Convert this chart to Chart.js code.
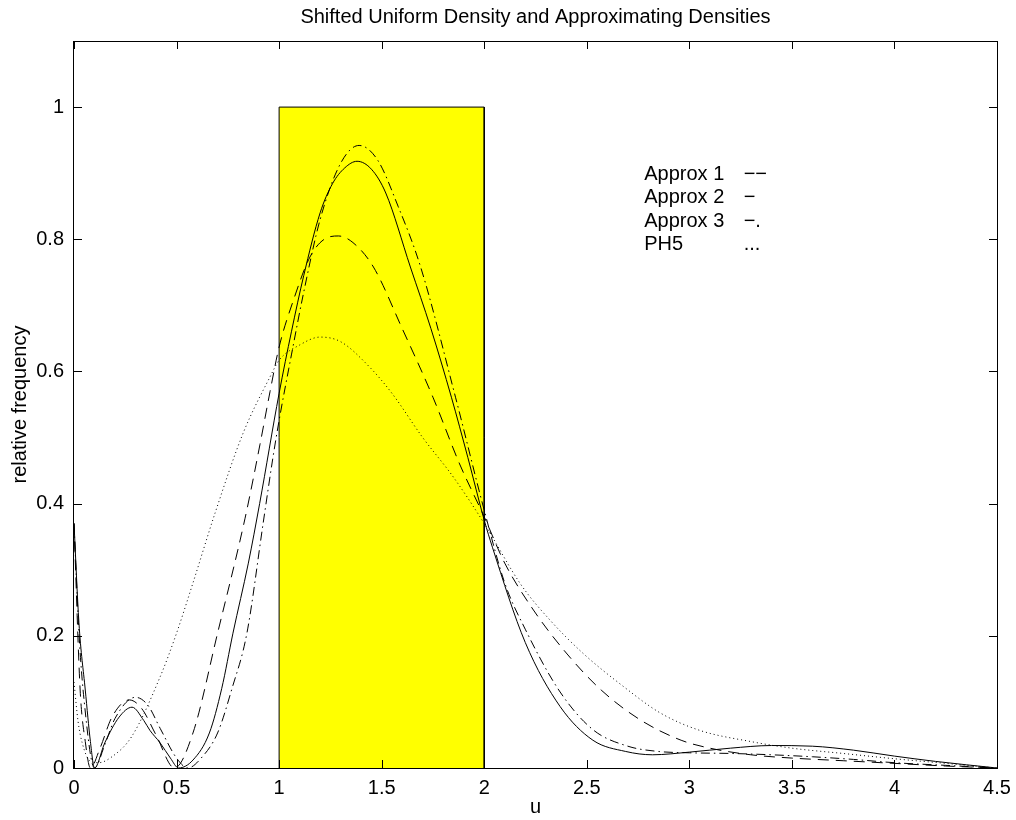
<!DOCTYPE html>
<html>
<head>
<meta charset="utf-8">
<script src="https://cdn.jsdelivr.net/npm/chart.js@4.4.1/dist/chart.umd.min.js"></script>
<style>
  html, body { margin:0; padding:0; background:#fff; }
  #wrap { width:1016px; height:820px; position:relative; }
</style>
</head>
<body>
<div id="wrap"><canvas id="c"></canvas></div>
<script>
// ====== DATA ======
const xTicks = [0, 0.5, 1, 1.5, 2, 2.5, 3, 3.5, 4, 4.5];
const yTicks = [0, 0.2, 0.4, 0.6, 0.8, 1];

// shifted uniform density on [1,2]
const uniformX = [1, 1, 2, 2];
const uniformY = [0, 1, 1, 0];

// Approx 1 (dashed)
const approx1X = [0, 0.03, 0.055, 0.08, 0.127, 0.185, 0.27, 0.33, 0.4, 0.49, 0.58, 0.7, 0.834, 0.907, 0.956, 1.0, 1.07, 1.15, 1.22, 1.29, 1.36, 1.46, 1.6, 1.75, 1.88, 2.0, 2.1, 2.24, 2.4, 2.57, 2.76, 2.96, 3.1, 3.3, 3.5, 3.75, 4.0, 4.25, 4.5];
const approx1Y = [0.37, 0.118, 0.04, 0.0, 0.03, 0.077, 0.103, 0.09, 0.05, 0.0, 0.053, 0.204, 0.378, 0.49, 0.57, 0.637, 0.708, 0.773, 0.8, 0.805, 0.795, 0.758, 0.665, 0.561, 0.46, 0.38, 0.31, 0.239, 0.174, 0.118, 0.073, 0.042, 0.03, 0.02, 0.015, 0.011, 0.007, 0.003, 0.0];

// Approx 2 (solid)
const approx2X = [0, 0.024, 0.055, 0.08, 0.1, 0.15, 0.22, 0.283, 0.34, 0.37, 0.42, 0.47, 0.51, 0.58, 0.66, 0.72, 0.775, 0.85, 0.905, 1.0, 1.06, 1.12, 1.2, 1.26, 1.32, 1.38, 1.45, 1.52, 1.64, 1.74, 1.84, 1.92, 2.0, 2.04, 2.2, 2.37, 2.53, 2.69, 2.82, 3.0, 3.2, 3.4, 3.6, 3.8, 4.0, 4.2, 4.5];
const approx2Y = [0.37, 0.22, 0.118, 0.04, 0.0, 0.038, 0.077, 0.092, 0.072, 0.057, 0.038, 0.015, 0.0, 0.012, 0.053, 0.12, 0.204, 0.31, 0.4, 0.567, 0.66, 0.745, 0.84, 0.884, 0.908, 0.918, 0.906, 0.87, 0.758, 0.665, 0.561, 0.47, 0.375, 0.334, 0.19, 0.093, 0.042, 0.025, 0.02, 0.024, 0.03, 0.034, 0.033, 0.027, 0.018, 0.01, 0.0];

// Approx 3 (dash-dot)
const approx3X = [0, 0.025, 0.05, 0.1, 0.15, 0.2, 0.3, 0.36, 0.42, 0.5, 0.555, 0.62, 0.7, 0.77, 0.843, 0.922, 0.97, 1.0, 1.06, 1.12, 1.2, 1.3, 1.39, 1.48, 1.58, 1.69, 1.86, 2.0, 2.1, 2.2, 2.37, 2.53, 2.7, 2.85, 3.0, 3.2, 3.4, 3.6, 3.8, 4.0, 4.25, 4.5];
const approx3Y = [0.37, 0.2, 0.1, 0.0, 0.035, 0.075, 0.107, 0.095, 0.06, 0.015, 0.0, 0.015, 0.053, 0.12, 0.204, 0.37, 0.47, 0.526, 0.625, 0.72, 0.83, 0.915, 0.942, 0.92, 0.85, 0.758, 0.561, 0.39, 0.28, 0.21, 0.115, 0.058, 0.033, 0.025, 0.023, 0.022, 0.02, 0.017, 0.013, 0.008, 0.004, 0.0];

// PH5 (dotted)
const ph5X = [0, 0.02, 0.04, 0.08, 0.12, 0.185, 0.28, 0.42, 0.5, 0.58, 0.688, 0.825, 0.956, 1.0, 1.1, 1.2, 1.3, 1.44, 1.55, 1.7, 1.85, 2.0, 2.18, 2.32, 2.48, 2.68, 2.86, 3.05, 3.3, 3.5, 3.75, 4.0, 4.25, 4.5];
const ph5Y = [0.13, 0.07, 0.038, 0.01, 0.008, 0.017, 0.047, 0.138, 0.204, 0.28, 0.386, 0.507, 0.592, 0.617, 0.64, 0.652, 0.645, 0.607, 0.567, 0.5, 0.44, 0.37, 0.277, 0.224, 0.174, 0.123, 0.083, 0.057, 0.04, 0.03, 0.022, 0.014, 0.007, 0.0];

const legendRows = [['Approx 1', '−−'], ['Approx 2', '−'], ['Approx 3', '−.'], ['PH5', '...']];

// ====== HELPERS ======
const pts = (xs, ys) => xs.map((x, i) => ({ x, y: ys[i] }));
const FONT = 'Liberation Sans, Arial, Helvetica, sans-serif';

const curve = (label, xs, ys, dash) => ({
  label, data: pts(xs, ys), showLine: true, fill: false,
  borderColor: '#000', borderWidth: 1, borderDash: dash,
  pointRadius: 0, cubicInterpolationMode: 'monotone', order: 0
});

// inward ticks on all four sides + box + text legend
const framePlugin = {
  id: 'frame',
  afterDatasetsDraw(chart){
    const { ctx, chartArea: a, scales: { x, y } } = chart;
    const L = 8;
    ctx.save();
    ctx.strokeStyle = '#000'; ctx.lineWidth = 1;
    ctx.beginPath();
    xTicks.forEach(v => {
      const px = Math.round(x.getPixelForValue(v)) + 0.5;
      ctx.moveTo(px, a.bottom); ctx.lineTo(px, a.bottom - L);
      ctx.moveTo(px, a.top); ctx.lineTo(px, a.top + L);
    });
    yTicks.forEach(v => {
      const py = Math.round(y.getPixelForValue(v)) + 0.5;
      ctx.moveTo(a.left, py); ctx.lineTo(a.left + L, py);
      ctx.moveTo(a.right, py); ctx.lineTo(a.right - L, py);
    });
    ctx.stroke();
    ctx.strokeRect(Math.round(a.left) - 0.5, Math.round(a.top) + 0.5, Math.round(a.right - a.left) + 1, Math.round(a.bottom - a.top));
    // legend text block
    ctx.fillStyle = '#000';
    ctx.font = '20px ' + FONT;
    ctx.textBaseline = 'alphabetic';
    const tx = x.getPixelForValue(2.78), sx = x.getPixelForValue(3.265);
    legendRows.forEach((r, i) => {
      const by = y.getPixelForValue(0.8896) + i * 23.3;
      ctx.fillText(r[0], tx, by);
      ctx.fillText(r[1], sx, by);
    });
    ctx.restore();
  }
};

new Chart(document.getElementById('c'), {
  type: 'scatter',
  data: {
    datasets: [
      curve('Approx 1', approx1X, approx1Y, [11, 7]),
      curve('Approx 2', approx2X, approx2Y, []),
      curve('Approx 3', approx3X, approx3Y, [9, 4, 1.5, 4]),
      curve('PH5', ph5X, ph5Y, [1, 3]),
      { label: 'Uniform', data: pts(uniformX, uniformY), showLine: true, fill: 'origin',
        backgroundColor: '#ffff00', borderColor: '#000', borderWidth: 1, pointRadius: 0, tension: 0, order: 1 }
    ]
  },
  options: {
    responsive: true, maintainAspectRatio: false, animation: false,
    layout: { padding: { left: 0, right: 19, top: 0, bottom: 0 } },
    plugins: { legend: { display: false }, tooltip: { enabled: false } },
    scales: {
      x: {
        type: 'linear', min: 0, max: 4.5,
        afterBuildTicks: s => { s.ticks = xTicks.map(v => ({ value: v })); },
        afterFit: s => { s.height = 52; s.paddingRight = 0; s.paddingLeft = 0; },
        grid: { display: false, drawTicks: false }, border: { display: false },
        ticks: { color: '#000', padding: 8, maxRotation: 0, font: { family: FONT, size: 20 }, callback: v => String(v) },
        title: { display: true, text: 'u', color: '#000', font: { family: FONT, size: 20 }, padding: { bottom: 1 } }
      },
      // top axis only carries the title, so it is centred over the plot
      xTop: {
        type: 'linear', position: 'top', min: 0, max: 4.5,
        afterFit: s => { s.height = 41; s.paddingRight = 0; s.paddingLeft = 0; },
        grid: { display: false, drawTicks: false }, border: { display: false },
        ticks: { display: false },
        title: { display: true, text: 'Shifted Uniform Density and Approximating Densities',
          color: '#000', font: { family: FONT, size: 20 }, padding: { top: 5, bottom: 0 } }
      },
      y: {
        min: 0, max: 1.1,
        afterBuildTicks: s => { s.ticks = yTicks.map(v => ({ value: v })); },
        afterFit: s => { s.width = 74; },
        grid: { display: false, drawTicks: false }, border: { display: false },
        ticks: { color: '#000', padding: 10, font: { family: FONT, size: 20 }, callback: v => String(v) },
        title: { display: true, text: 'relative frequency', color: '#000', font: { family: FONT, size: 20 }, padding: { top: 8 } }
      }
    }
  },
  plugins: [framePlugin]
});
</script>
</body>
</html>
